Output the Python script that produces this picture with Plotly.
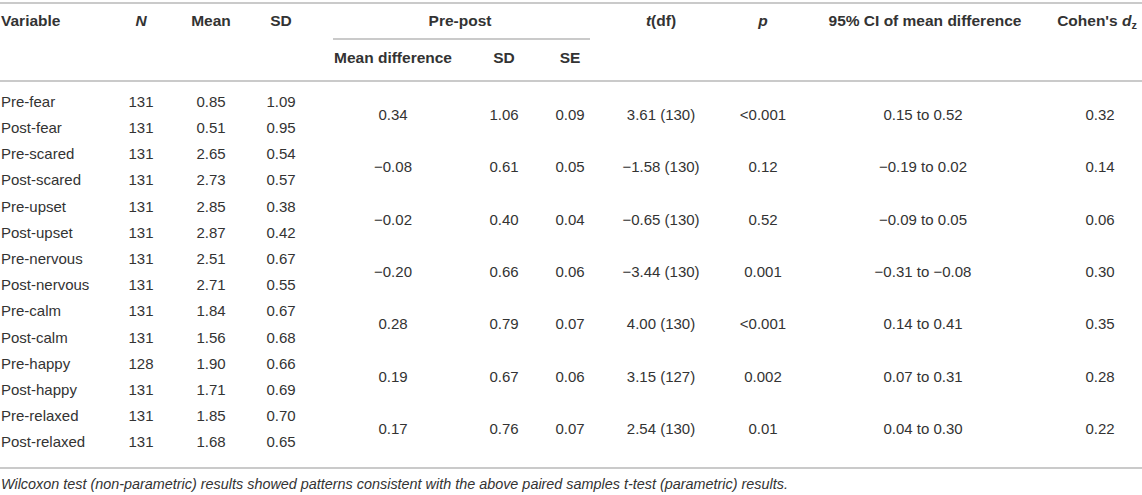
import plotly.graph_objects as go

# table data
variables = ["Pre-fear", "Post-fear", "Pre-scared", "Post-scared", "Pre-upset", "Post-upset",
             "Pre-nervous", "Post-nervous", "Pre-calm", "Post-calm", "Pre-happy", "Post-happy",
             "Pre-relaxed", "Post-relaxed"]
n = [131, 131, 131, 131, 131, 131, 131, 131, 131, 131, 128, 131, 131, 131]
means = ["0.85", "0.51", "2.65", "2.73", "2.85", "2.87", "2.51", "2.71", "1.84", "1.56", "1.90", "1.71", "1.85", "1.68"]
sds = ["1.09", "0.95", "0.54", "0.57", "0.38", "0.42", "0.67", "0.55", "0.67", "0.68", "0.66", "0.69", "0.70", "0.65"]

# one value per pre/post pair
mean_diff = ["0.34", "−0.08", "−0.02", "−0.20", "0.28", "0.19", "0.17"]
diff_sd = ["1.06", "0.61", "0.40", "0.66", "0.79", "0.67", "0.76"]
diff_se = ["0.09", "0.05", "0.04", "0.06", "0.07", "0.06", "0.07"]
t_vals = ["3.61", "−1.58", "−0.65", "−3.44", "4.00", "3.15", "2.54"]
dfs = [130, 130, 130, 130, 130, 127, 130]
p_vals = ["<0.001", "0.12", "0.52", "0.001", "<0.001", "0.002", "0.01"]
ci_low = ["0.15", "−0.19", "−0.09", "−0.31", "0.14", "0.07", "0.04"]
ci_high = ["0.52", "0.02", "0.05", "−0.08", "0.41", "0.31", "0.30"]
cohens_dz = ["0.32", "0.14", "0.06", "0.30", "0.35", "0.28", "0.22"]

footnote = ("Wilcoxon test (non-parametric) results showed patterns consistent with the above "
            "paired samples t-test (parametric) results.")

# layout helpers (pixel space)
W, H = 1142, 495
row0, row_h = 103, 26.2
rows_y = [row0 + i * row_h for i in range(len(variables))]
pair_y = [(rows_y[2 * i] + rows_y[2 * i + 1]) / 2 for i in range(len(mean_diff))]

FONT = "Liberation Sans, Arial, sans-serif"
TXT = "#333333"
LINE = "#b8b8b8"
BODY, HEAD = 15, 15.5

fig = go.Figure()


def col(x, y, texts, pos="middle center", size=BODY):
    fig.add_trace(go.Scatter(
        x=[x] * len(texts), y=y, text=texts, mode="text", textposition=pos, cliponaxis=False,
        textfont=dict(family=FONT, size=size, color=TXT), hoverinfo="skip", showlegend=False))


# row columns
col(1, rows_y, variables, pos="middle right")
col(141, rows_y, [str(v) for v in n])
col(211, rows_y, means)
col(281, rows_y, sds)

# paired columns
col(393, pair_y, mean_diff)
col(504, pair_y, diff_sd)
col(570, pair_y, diff_se)
col(661, pair_y, [f"{t} ({d})" for t, d in zip(t_vals, dfs)])
col(763, pair_y, p_vals)
col(923, pair_y, [f"{a} to {b}" for a, b in zip(ci_low, ci_high)])
col(1100, pair_y, cohens_dz)

# header
hy1, hy2 = 22, 59
col(1, [hy1], ["<b>Variable</b>"], pos="middle right", size=HEAD)
col(141, [hy1], ["<b><i>N</i></b>"], size=HEAD)
col(211, [hy1], ["<b>Mean</b>"], size=HEAD)
col(281, [hy1], ["<b>SD</b>"], size=HEAD)
col(460, [hy1], ["<b>Pre-post</b>"], size=HEAD)
col(393, [hy2], ["<b>Mean difference</b>"], size=HEAD)
col(504, [hy2], ["<b>SD</b>"], size=HEAD)
col(570, [hy2], ["<b>SE</b>"], size=HEAD)
col(661, [hy1], ["<b><i>t</i>(df)</b>"], size=HEAD)
col(763, [hy1], ["<b><i>p</i></b>"], size=HEAD)
col(925, [hy1], ["<b>95% CI of mean difference</b>"], size=HEAD)
col(1097, [hy1], ["<b>Cohen's <i>d</i><sub>z</sub></b>"], size=HEAD)

# footnote
col(1, [485], ["<i>" + footnote + "</i>"], pos="middle right", size=14.4)

# rules
rules = [(0, W, 3), (333, 590, 39), (0, W, 81), (0, W, 468)]
for x0, x1, y in rules:
    fig.add_shape(type="line", x0=x0, x1=x1, y0=y, y1=y, line=dict(color=LINE, width=1.6))

fig.update_xaxes(range=[0, W], visible=False, fixedrange=True)
fig.update_yaxes(range=[H, 0], visible=False, fixedrange=True)
fig.update_layout(width=W, height=H, margin=dict(l=0, r=0, t=0, b=0),
                  plot_bgcolor="white", paper_bgcolor="white")

# drop the default page margin so the table sits at the window's top-left corner
fig.write_html("out.html", config={"displayModeBar": False},
               post_script="document.body.style.margin = '0';")
